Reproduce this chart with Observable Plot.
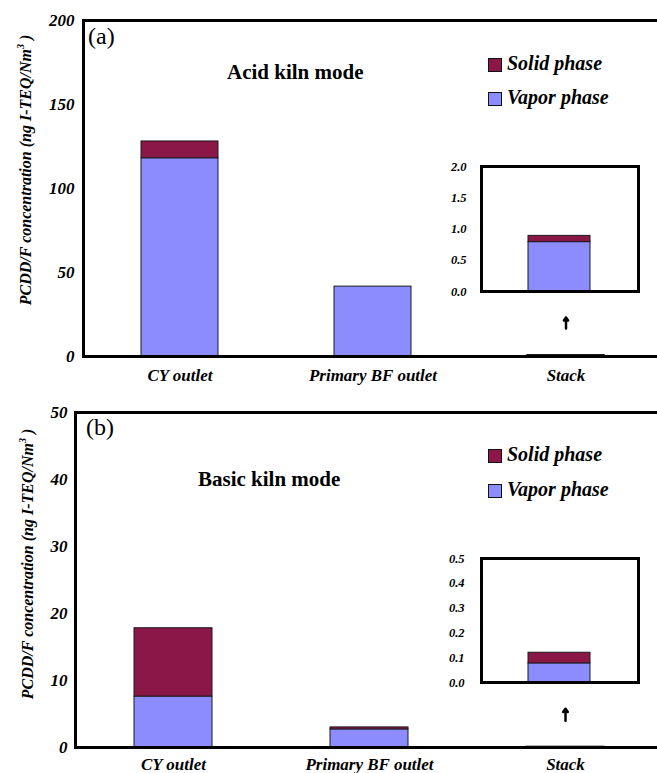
<!DOCTYPE html>
<html>
<head>
<meta charset="utf-8">
<script src="https://cdn.jsdelivr.net/npm/d3@7"></script>
<script src="https://cdn.jsdelivr.net/npm/@observablehq/plot@0.6"></script>
<style>
  html, body { margin: 0; padding: 0; background: #fff; overflow: hidden; }
  #root { position: relative; width: 657px; height: 773px; font-family: 'Liberation Serif', Tinos, 'Times New Roman', serif; }
  .ylab { position: absolute; white-space: nowrap; font-weight: bold; font-style: italic; font-size: 16px; transform: translate(-50%, -50%) rotate(-90deg); }
  .ylab sup { font-size: 10px; }
  .panel { position: absolute; font-size: 24px; }
  .mode { position: absolute; font-weight: bold; font-size: 21px; white-space: nowrap; }
  .leg { position: absolute; font-weight: bold; font-style: italic; font-size: 20px; white-space: nowrap; }
  .sw { position: absolute; width: 12px; height: 12px; border: 1px solid #111; }
  svg { overflow: visible; }
</style>
</head>
<body>
<div id="root"></div>
<script>
// ---- data ----
const categories = ["CY outlet", "Primary BF outlet", "Stack"];
const phases = ["Vapor phase", "Solid phase"];
const phaseColors = ["#8c8cff", "#8b1748"];

const acidVapor = [118, 41.6, 0.79];
const acidSolid = [10, 0, 0.1];
const basicVapor = [7.6, 2.7, 0.077];
const basicSolid = [10.2, 0.3, 0.043];

const acidTicks = [0, 50, 100, 150, 200];
const basicTicks = [0, 10, 20, 30, 40, 50];
const acidInsetTicks = [0, 0.5, 1.0, 1.5, 2.0];
const basicInsetTicks = [0, 0.1, 0.2, 0.3, 0.4, 0.5];

const insetCategory = ["Stack"];
const acidArrow = [16.7, 23.2];
const basicArrow = [4.0, 5.8];

const legendLabels = ["Solid phase", "Vapor phase"];
const legendColors = ["#8b1748", "#8c8cff"];
const yTitle = "PCDD/F concentration (ng I-TEQ/Nm";

// ---- helpers ----
function rows(vapor, solid, cats) {
  return cats.flatMap((c) => {
    const i = categories.indexOf(c);
    return [
      {cat: c, phase: phases[0], value: vapor[i]},
      {cat: c, phase: phases[1], value: solid[i]}
    ];
  });
}

const serif = "'Liberation Serif', Tinos, 'Times New Roman', serif";
const axisFont = {fontFamily: serif, fontWeight: "bold", fontStyle: "italic", fontSize: "17px", background: "transparent", overflow: "visible"};

function mainPlot({vapor, solid, ticks, height, marginLeft, marginTop, marginBottom, marginRight, yPad, xPad, arrow}) {
  return Plot.plot({
    width: 657, height, marginLeft, marginTop, marginBottom, marginRight,
    style: axisFont,
    x: {domain: categories, paddingInner: 0.6, paddingOuter: 0.3, label: null, tickSize: 0, tickPadding: xPad},
    y: {domain: [0, ticks[ticks.length - 1]], ticks, tickSize: 0, tickPadding: yPad, label: null, tickFormat: d3.format("d")},
    color: {domain: phases, range: phaseColors},
    marks: [
      Plot.barY(rows(vapor, solid, categories), {x: "cat", y: "value", fill: "phase", stroke: "#1a1a1a", strokeWidth: 1}),
      Plot.arrow([{cat: "Stack", from: arrow[0], to: arrow[1]}], {x1: "cat", x2: "cat", y1: "from", y2: "to", stroke: "black", strokeWidth: 2.5, headLength: 7, headAngle: 70}),
      Plot.frame({stroke: "black", strokeWidth: 3})
    ]
  });
}

function insetPlot({vapor, solid, ticks, innerHeight, yPad}) {
  return Plot.plot({
    width: 201, height: innerHeight + 20, marginLeft: 41, marginRight: 3, marginTop: 10, marginBottom: 10,
    style: Object.assign({}, axisFont, {fontSize: "12.5px"}),
    x: {domain: insetCategory, padding: 0.43, axis: null},
    y: {domain: [0, ticks[ticks.length - 1]], ticks, tickSize: 0, tickPadding: yPad, label: null, tickFormat: d3.format(".1f")},
    color: {domain: phases, range: phaseColors},
    marks: [
      Plot.barY(rows(vapor, solid, insetCategory), {x: "cat", y: "value", fill: "phase", stroke: "#1a1a1a", strokeWidth: 1}),
      Plot.frame({stroke: "black", strokeWidth: 3})
    ]
  });
}

function place(el, left, top) {
  el.style.position = "absolute";
  el.style.left = left + "px";
  el.style.top = top + "px";
  root.appendChild(el);
  return el;
}

function addHtml(cls, html, left, top) {
  const d = document.createElement("div");
  d.className = cls;
  d.innerHTML = html;
  d.style.left = left + "px";
  d.style.top = top + "px";
  root.appendChild(d);
  return d;
}

const root = document.getElementById("root");

// ---- panel (a) ----
place(mainPlot({vapor: acidVapor, solid: acidSolid, ticks: acidTicks, height: 390, marginLeft: 83, marginTop: 20, marginBottom: 34, marginRight: -5, yPad: 9, xPad: 12, arrow: acidArrow}), 0, 0);
place(insetPlot({vapor: acidVapor, solid: acidSolid, ticks: acidInsetTicks, innerHeight: 125, yPad: 15}), 440, 156);

// ---- panel (b) ----
place(mainPlot({vapor: basicVapor, solid: basicSolid, ticks: basicTicks, height: 383, marginLeft: 75, marginTop: 22, marginBottom: 26, marginRight: -7, yPad: 8, xPad: 10, arrow: basicArrow}), 0, 390);
place(insetPlot({vapor: basicVapor, solid: basicSolid, ticks: basicInsetTicks, innerHeight: 124, yPad: 17}), 440, 548);

// ---- annotations ----
addHtml("ylab", yTitle + "<sup>3</sup> )", 25, 170);
addHtml("ylab", yTitle + "<sup>3</sup> )", 27, 564);
addHtml("panel", "(a)", 88, 23);
addHtml("panel", "(b)", 86, 414);
addHtml("mode", "Acid kiln mode", 227, 60);
addHtml("mode", "Basic kiln mode", 198, 467);

function legend(top, gap) {
  legendLabels.forEach((lab, i) => {
    const sw = document.createElement("div");
    sw.className = "sw";
    sw.style.left = "488px";
    sw.style.top = (top + i * gap) + "px";
    sw.style.background = legendColors[i];
    root.appendChild(sw);
    addHtml("leg", lab, 507, top + i * gap - 6);
  });
}
legend(58, 34);
legend(449, 35);
</script>
</body>
</html>
